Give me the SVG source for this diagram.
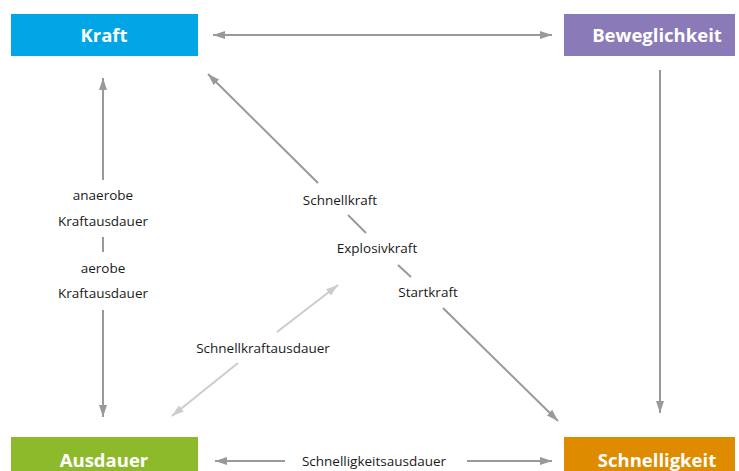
<svg xmlns="http://www.w3.org/2000/svg" width="739" height="471" viewBox="0 0 739 471">
<style>
.box-t{font-family:"Open Sans","Liberation Sans",sans-serif;font-weight:bold;font-size:18.5px;fill:#fff;text-anchor:middle}
.lbl{font-family:"Open Sans","Liberation Sans",sans-serif;font-size:13.5px;fill:#1a1a1a;text-anchor:middle}
.c{stroke:#999;stroke-width:2;fill:none}
.cl{stroke:#ccc;stroke-width:2;fill:none}
</style>
<defs>
<marker id="ah" viewBox="0 0 12 8" refX="12" refY="4" markerWidth="12" markerHeight="8" markerUnits="userSpaceOnUse" orient="auto-start-reverse"><path d="M0,0 L12,4 L0,8 z" fill="#999"/></marker>
<marker id="ahl" viewBox="0 0 12 8" refX="12" refY="4" markerWidth="12" markerHeight="8" markerUnits="userSpaceOnUse" orient="auto-start-reverse"><path d="M0,0 L12,4 L0,8 z" fill="#ccc"/></marker>
</defs>
<rect width="739" height="471" fill="#fff"/>
<g id="connectors">
<line class="c" x1="213" y1="35" x2="552" y2="35" marker-start="url(#ah)" marker-end="url(#ah)"/>
<line class="c" x1="660" y1="70" x2="660" y2="413" marker-end="url(#ah)"/>
<line class="c" x1="103" y1="180" x2="103" y2="78" marker-end="url(#ah)"/>
<line class="c" x1="103" y1="237" x2="103" y2="252"/>
<line class="c" x1="103" y1="310" x2="103" y2="417" marker-end="url(#ah)"/>
<line class="c" x1="318" y1="183" x2="208" y2="74" marker-end="url(#ah)"/>
<line class="c" x1="348" y1="215" x2="366" y2="233"/>
<line class="c" x1="398" y1="265" x2="411" y2="277"/>
<line class="c" x1="443" y1="308" x2="558" y2="421" marker-end="url(#ah)"/>
<line class="cl" x1="277" y1="332" x2="338" y2="285" marker-end="url(#ahl)"/>
<line class="cl" x1="238" y1="363" x2="172" y2="416" marker-end="url(#ahl)"/>
<line class="c" x1="285" y1="461" x2="215" y2="461" marker-end="url(#ah)"/>
<line class="c" x1="467" y1="461" x2="552" y2="461" marker-end="url(#ah)"/>
</g>
<g id="kraft"><rect x="11" y="14" width="187" height="42" fill="#00a5e5"/><text class="box-t" x="104" y="41.5">Kraft</text></g>
<g id="beweglichkeit"><rect x="564" y="14" width="171" height="42" fill="#8a7bb8"/><text class="box-t" x="657" y="41.5">Beweglichkeit</text></g>
<g id="ausdauer"><rect x="11" y="437" width="187" height="34" fill="#8dba2b"/><text class="box-t" x="104" y="466.5">Ausdauer</text></g>
<g id="schnelligkeit"><rect x="564" y="437" width="171" height="34" fill="#df8b00"/><text class="box-t" x="657" y="466.5">Schnelligkeit</text></g>
<g id="labels">
<text class="lbl" x="103" y="200">anaerobe</text>
<text class="lbl" x="103" y="226">Kraftausdauer</text>
<text class="lbl" x="103" y="273">aerobe</text>
<text class="lbl" x="103" y="298">Kraftausdauer</text>
<text class="lbl" x="340" y="205">Schnellkraft</text>
<text class="lbl" x="377" y="253">Explosivkraft</text>
<text class="lbl" x="428" y="297">Startkraft</text>
<text class="lbl" x="263" y="353">Schnellkraftausdauer</text>
<text class="lbl" x="374" y="466">Schnelligkeitsausdauer</text>
</g>
</svg>
